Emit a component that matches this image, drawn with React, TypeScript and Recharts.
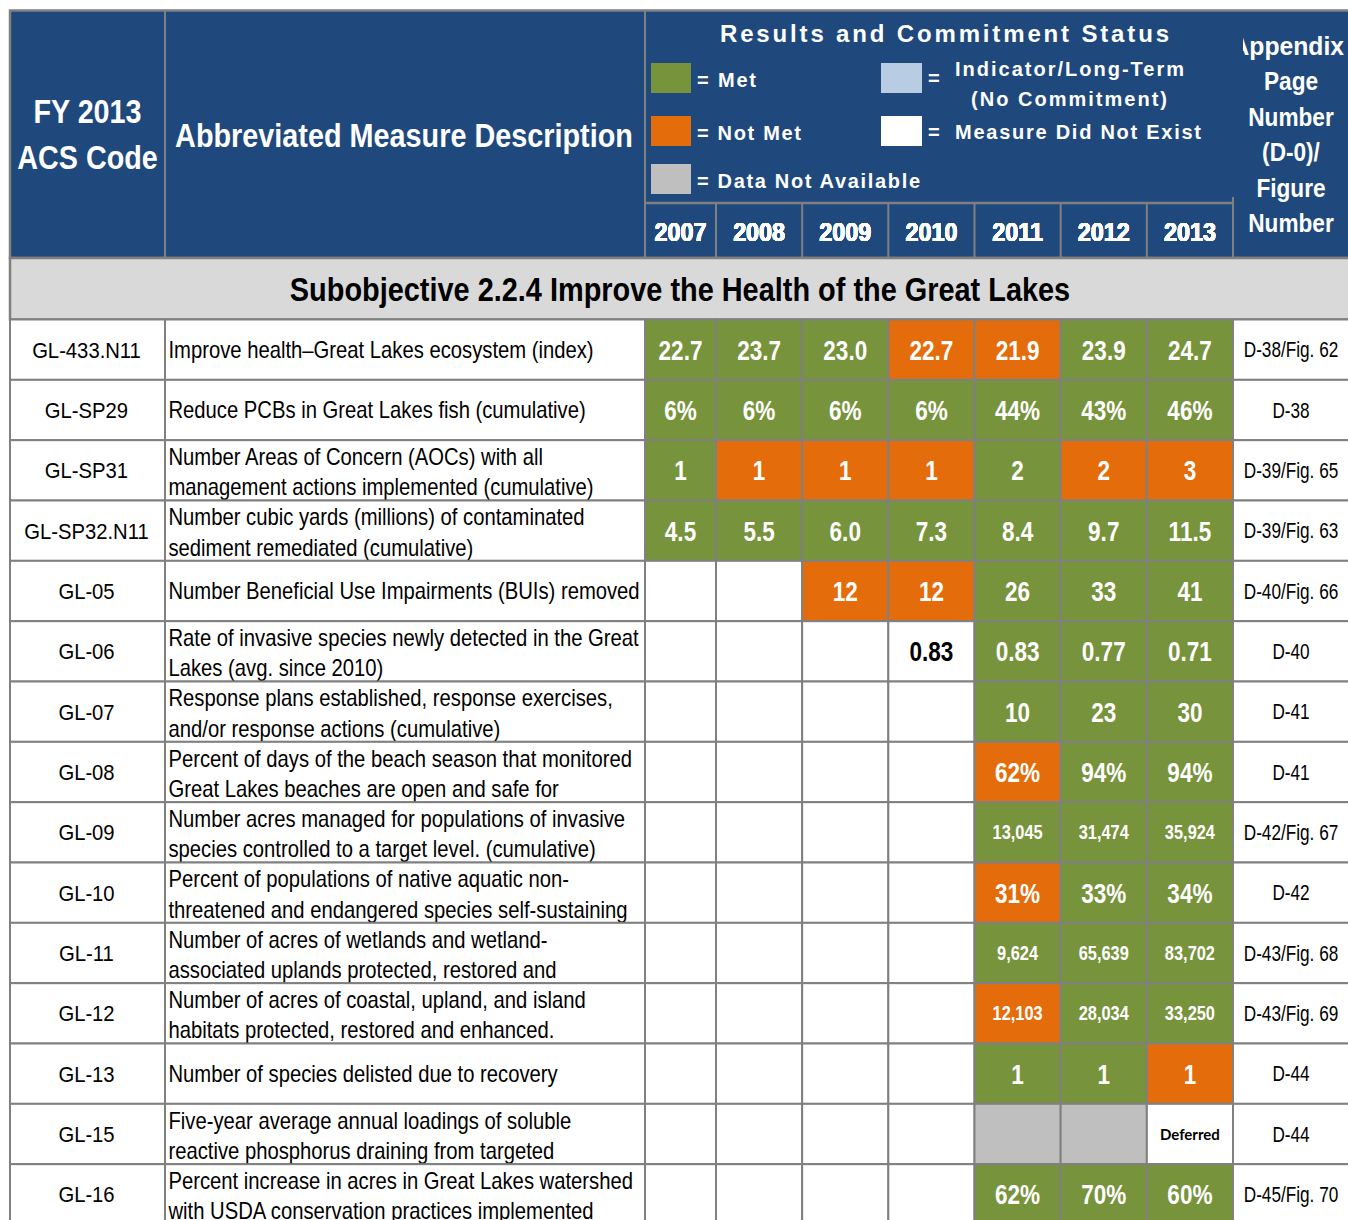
import React from 'react';
import { ScatterChart, Scatter, XAxis, YAxis } from 'recharts';

// ---------------- data ----------------
const ROW_CODES = [
  'GL-433.N11', 'GL-SP29', 'GL-SP31', 'GL-SP32.N11', 'GL-05', 'GL-06', 'GL-07', 'GL-08',
  'GL-09', 'GL-10', 'GL-11', 'GL-12', 'GL-13', 'GL-15', 'GL-16',
];

const DESCRIPTIONS: string[][] = [
  ['Improve health\u2013Great Lakes ecosystem (index)'],
  ['Reduce PCBs in Great Lakes fish (cumulative)'],
  ['Number Areas of Concern (AOCs) with all', 'management actions implemented (cumulative)'],
  ['Number cubic yards (millions) of contaminated', 'sediment remediated (cumulative)'],
  ['Number Beneficial Use Impairments (BUIs) removed'],
  ['Rate of invasive species newly detected in the Great', 'Lakes (avg. since 2010)'],
  ['Response plans established, response exercises,', 'and/or response actions (cumulative)'],
  ['Percent of days of the beach season that monitored', 'Great Lakes beaches are open and safe for'],
  ['Number acres managed for populations of invasive', 'species controlled to a target level. (cumulative)'],
  ['Percent of populations of native aquatic non-', 'threatened and endangered species self-sustaining'],
  ['Number of acres of wetlands and wetland-', 'associated uplands protected, restored and'],
  ['Number of acres of coastal, upland, and island', 'habitats protected, restored and enhanced.'],
  ['Number of species delisted due to recovery'],
  ['Five-year average annual loadings of soluble', 'reactive phosphorus draining from targeted'],
  ['Percent increase in acres in Great Lakes watershed', 'with USDA conservation practices implemented'],
];

const YEARS = ['2007', '2008', '2009', '2010', '2011', '2012', '2013'];

const VALUES: string[][] = [
  ['22.7', '23.7', '23.0', '22.7', '21.9', '23.9', '24.7'],
  ['6%', '6%', '6%', '6%', '44%', '43%', '46%'],
  ['1', '1', '1', '1', '2', '2', '3'],
  ['4.5', '5.5', '6.0', '7.3', '8.4', '9.7', '11.5'],
  ['', '', '12', '12', '26', '33', '41'],
  ['', '', '', '0.83', '0.83', '0.77', '0.71'],
  ['', '', '', '', '10', '23', '30'],
  ['', '', '', '', '62%', '94%', '94%'],
  ['', '', '', '', '13,045', '31,474', '35,924'],
  ['', '', '', '', '31%', '33%', '34%'],
  ['', '', '', '', '9,624', '65,639', '83,702'],
  ['', '', '', '', '12,103', '28,034', '33,250'],
  ['', '', '', '', '1', '1', '1'],
  ['', '', '', '', '', '', 'Deferred'],
  ['', '', '', '', '62%', '70%', '60%'],
];

// M = Met, N = Not Met, D = Data Not Available, X = Measure Did Not Exist
const STATUS: string[] = [
  'MMMNNMM', 'MMMMMMM', 'MNNNMNN', 'MMMMMMM', 'XXNNMMM', 'XXXXMMM', 'XXXXMMM', 'XXXXNMM',
  'XXXXMMM', 'XXXXNMM', 'XXXXMMM', 'XXXXNMM', 'XXXXMMN', 'XXXXDDX', 'XXXXMMM',
];

const APPENDIX = [
  'D-38/Fig. 62', 'D-38', 'D-39/Fig. 65', 'D-39/Fig. 63', 'D-40/Fig. 66', 'D-40', 'D-41', 'D-41',
  'D-42/Fig. 67', 'D-42', 'D-43/Fig. 68', 'D-43/Fig. 69', 'D-44', 'D-44', 'D-45/Fig. 70',
];

const LEGEND = [
  { key: 'M', label: '= Met' },
  { key: 'N', label: '= Not Met' },
  { key: 'D', label: '= Data Not Available' },
];

// ---------------- layout / style ----------------
const W = 1348;
const H = 1240;
const ROW_TOP = 319.5;
const ROW_BOTTOM = 1224.5;
const ROW_H = (ROW_BOTTOM - ROW_TOP) / ROW_CODES.length;
const EDGE = { code: [10, 165], desc: [165, 645], y7: [645, 716], yrs: [716, 1233], app: [1233, 1352] };
const YRS_W = (EDGE.yrs[1] - EDGE.yrs[0]) / 6;

const BLUE = '#1F497D';
const GRID = '#808080';
const FILL: Record<string, string> = { M: '#77933C', N: '#E46C0A', D: '#BFBFBF', X: '#FFFFFF' };
const SANS = "'Liberation Sans', Arial, sans-serif";

const pad = (k: keyof typeof EDGE) => ({ left: EDGE[k][0], right: W - EDGE[k][1] });

// ---------------- cell records ----------------
const codeCells = ROW_CODES.map((r) => ({ row: r, col: 'code', text: r }));
const descCells = ROW_CODES.map((r, i) => ({ row: r, col: 'desc', lines: DESCRIPTIONS[i] }));
const y7Cells = ROW_CODES.map((r, i) => ({ row: r, col: YEARS[0], value: VALUES[i][0], status: STATUS[i][0] }));
const yrsCells = ROW_CODES.flatMap((r, i) =>
  YEARS.slice(1).map((y, j) => ({ row: r, col: y, value: VALUES[i][j + 1], status: STATUS[i][j + 1] })),
);
const appCells = ROW_CODES.map((r, i) => ({ row: r, col: 'app', text: APPENDIX[i] }));

// ---------------- helpers ----------------
const Txt = ({ x, y, size, weight = 400, fill = '#000', anchor = 'middle', sx = 1, family = SANS, len, children }: any) => (
  <text
    transform={`translate(${x} ${y}) scale(${sx} 1)`}
    x={0}
    y={0}
    fontSize={size}
    fontWeight={weight}
    fill={fill}
    textAnchor={anchor}
    fontFamily={family}
    textLength={len}
    lengthAdjust={len ? 'spacing' : undefined}
  >
    {children}
  </text>
);

const CellRect = ({ cx, cy, w, fill }: any) => (
  <rect x={cx - w / 2} y={cy - ROW_H / 2} width={w} height={ROW_H} fill={fill} stroke={GRID} strokeWidth={2} />
);

const CodeShape = (p: any) => (
  <g>
    <CellRect cx={p.cx} cy={p.cy} w={EDGE.code[1] - EDGE.code[0]} fill="#fff" />
    <Txt x={p.cx - 1} y={p.cy + 8} size={22.5} sx={0.9}>{p.payload.text}</Txt>
  </g>
);

const DescShape = (p: any) => {
  const w = EDGE.desc[1] - EDGE.desc[0];
  const left = p.cx - w / 2 + 3.5;
  const lines: string[] = p.payload.lines;
  return (
    <g>
      <CellRect cx={p.cx} cy={p.cy} w={w} fill="#fff" />
      {lines.length === 1 ? (
        <Txt x={left} y={p.cy + 8} size={23} sx={0.88} anchor="start">{lines[0]}</Txt>
      ) : (
        lines.map((l, k) => (
          <Txt key={k} x={left} y={p.cy - 5.5 + k * 30.5} size={23} sx={0.88} anchor="start">{l}</Txt>
        ))
      )}
    </g>
  );
};

const makeYearShape = (w: number) => (p: any) => {
  const { value, status } = p.payload;
  const onWhite = status === 'X';
  let label: any = null;
  if (value === 'Deferred') {
    label = <Txt x={p.cx} y={p.cy + 5.5} size={15} weight={700} family="Lato, 'Open Sans', sans-serif">{value}</Txt>;
  } else if (value) {
    const big = value.includes(',');
    const size = big ? 20 : 27.5;
    label = (
      <Txt x={p.cx} y={p.cy + size * 0.358} size={size} weight={700} sx={0.82} fill={onWhite ? '#000' : '#fff'}>
        {value}
      </Txt>
    );
  }
  return (
    <g>
      <CellRect cx={p.cx} cy={p.cy} w={w} fill={FILL[status]} />
      {label}
    </g>
  );
};

const Y7Shape = makeYearShape(EDGE.y7[1] - EDGE.y7[0]);
const YrsShape = makeYearShape(YRS_W);

const AppShape = (p: any) => (
  <g>
    <CellRect cx={p.cx} cy={p.cy} w={EDGE.app[1] - EDGE.app[0]} fill="#fff" />
    <Txt x={p.cx - 1.5} y={p.cy + 7.5} size={21.5} sx={0.8}>{p.payload.text}</Txt>
  </g>
);

const YearTick = (p: any) => (
  <Txt x={p.x} y={240.5} size={26.5} weight={700} sx={0.88} fill="#fff">{p.payload.value}</Txt>
);

const APP_HEAD = ['Appendix', 'Page', 'Number', '(D-0)/', 'Figure', 'Number'];

const Header = () => {
  const yearLines = [EDGE.y7[1], ...YEARS.slice(2).map((_, k) => EDGE.yrs[0] + (k + 1) * YRS_W)];
  return (
    <g>
      <defs>
        <clipPath id="appClip">
          <rect x={1243} y={0} width={200} height={258} />
        </clipPath>
      </defs>
      <rect x={10} y={10.5} width={W} height={247.5} fill={BLUE} stroke={GRID} strokeWidth={2.5} />
      <line x1={EDGE.code[1]} x2={EDGE.code[1]} y1={10} y2={258} stroke={GRID} strokeWidth={2} />
      <line x1={EDGE.desc[1]} x2={EDGE.desc[1]} y1={10} y2={258} stroke={GRID} strokeWidth={2} />
      <line x1={EDGE.desc[1]} x2={EDGE.yrs[1]} y1={203} y2={203} stroke={GRID} strokeWidth={2.5} />
      <line x1={EDGE.yrs[1]} x2={EDGE.yrs[1]} y1={197} y2={258} stroke={GRID} strokeWidth={2} />
      {yearLines.map((x, k) => (
        <line key={k} x1={x} x2={x} y1={203} y2={258} stroke={GRID} strokeWidth={2} />
      ))}
      <Txt x={87.5} y={123} size={33} weight={700} sx={0.87} fill="#fff">FY 2013</Txt>
      <Txt x={87.5} y={169} size={33} weight={700} sx={0.87} fill="#fff">ACS Code</Txt>
      <Txt x={404} y={147} size={33.5} weight={700} sx={0.86} fill="#fff">Abbreviated Measure Description</Txt>

      <Txt x={720} y={42} size={24} weight={700} anchor="start" fill="#fff" len={449}>Results and Commitment Status</Txt>
      {LEGEND.map((l, k) => {
        const top = [63, 116, 164][k];
        const len = [59, 104, 223][k];
        return (
          <g key={l.key}>
            <rect x={651} y={top} width={40} height={30} fill={FILL[l.key]} />
            <Txt x={697} y={top + 23.5} size={20} weight={700} anchor="start" fill="#fff" len={len}>{l.label}</Txt>
          </g>
        );
      })}
      <rect x={881} y={63} width={41} height={30} fill="#B8CCE4" />
      <Txt x={928} y={85} size={20} weight={700} anchor="start" fill="#fff">=</Txt>
      <Txt x={955} y={75.5} size={20} weight={700} anchor="start" fill="#fff" len={229}>Indicator/Long-Term</Txt>
      <Txt x={971} y={106} size={20} weight={700} anchor="start" fill="#fff" len={196}>(No Commitment)</Txt>
      <rect x={881} y={116} width={41} height={30} fill="#FFFFFF" />
      <Txt x={928} y={139} size={20} weight={700} anchor="start" fill="#fff">=</Txt>
      <Txt x={955} y={139} size={20} weight={700} anchor="start" fill="#fff" len={246}>Measure Did Not Exist</Txt>

      <g clipPath="url(#appClip)">
        {APP_HEAD.map((t, k) =>
          k === 0 ? (
            <Txt key={k} x={1344} y={55} size={26} weight={700} sx={0.95} anchor="end" fill="#fff">{t}</Txt>
          ) : (
            <Txt key={k} x={1291} y={55 + k * 35.4} size={26} weight={700} sx={0.87} fill="#fff">{t}</Txt>
          ),
        )}
      </g>

      <rect x={10} y={258} width={W} height={ROW_TOP - 258} fill="#D9D9D9" stroke={GRID} strokeWidth={2.5} />
      <Txt x={680} y={301} size={34} weight={700} sx={0.85}>Subobjective 2.2.4 Improve the Health of the Great Lakes</Txt>
    </g>
  );
};

export default function App() {
  return (
    <div style={{ position: 'fixed', left: 0, top: 0, width: W, height: 1220, overflow: 'hidden', background: '#fff' }}>
      <ScatterChart width={W} height={H} margin={{ top: 0, right: 0, bottom: 0, left: 0 }}>
        <XAxis xAxisId="code" type="category" dataKey="col" scale="band" hide allowDuplicatedCategory={false} padding={pad('code')} />
        <XAxis xAxisId="desc" type="category" dataKey="col" scale="band" hide allowDuplicatedCategory={false} padding={pad('desc')} />
        <XAxis
          xAxisId="y7"
          type="category"
          dataKey="col"
          scale="band"
          orientation="top"
          mirror
          axisLine={false}
          tickLine={false}
          interval={0}
          tick={YearTick}
          allowDuplicatedCategory={false}
          padding={pad('y7')}
        />
        <XAxis
          xAxisId="yrs"
          type="category"
          dataKey="col"
          scale="band"
          orientation="top"
          mirror
          axisLine={false}
          tickLine={false}
          interval={0}
          tick={YearTick}
          allowDuplicatedCategory={false}
          padding={pad('yrs')}
        />
        <XAxis xAxisId="app" type="category" dataKey="col" scale="band" hide allowDuplicatedCategory={false} padding={pad('app')} />
        <YAxis
          type="category"
          dataKey="row"
          scale="band"
          hide
          reversed
          width={0}
          allowDuplicatedCategory={false}
          padding={{ top: ROW_TOP, bottom: H - ROW_BOTTOM }}
        />
        <Header />
        <Scatter xAxisId="code" data={codeCells} shape={CodeShape} isAnimationActive={false} />
        <Scatter xAxisId="desc" data={descCells} shape={DescShape} isAnimationActive={false} />
        <Scatter xAxisId="y7" data={y7Cells} shape={Y7Shape} isAnimationActive={false} />
        <Scatter xAxisId="yrs" data={yrsCells} shape={YrsShape} isAnimationActive={false} />
        <Scatter xAxisId="app" data={appCells} shape={AppShape} isAnimationActive={false} />
      </ScatterChart>
    </div>
  );
}
